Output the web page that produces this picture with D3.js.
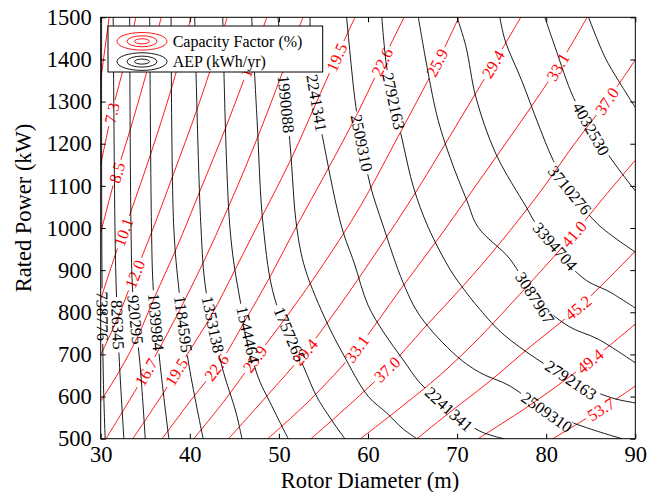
<!DOCTYPE html>
<html>
<head>
<meta charset="utf-8">
<script src="https://cdn.jsdelivr.net/npm/d3@7"></script>
<style>
  body { margin: 0; background: #fff; }
  svg { display: block; }
  svg text { font-family: 'Liberation Serif', 'Times New Roman', serif; }
</style>
</head>
<body>
<div id="chart"></div>
<script>
// Axis ticks
const xTicks = [30, 40, 50, 60, 70, 80, 90];
const yTicks = [500, 600, 700, 800, 900, 1000, 1100, 1200, 1300, 1400, 1500];

// Capacity factor contours (%), each line as [rotor diameter m, rated power kW]
const cfLevels = ['6.2', '7.3', '8.5', '10.1', '12.0', '14.2', '16.7', '19.5', '22.6', '25.9',
  '29.4', '33.1', '37.0', '41.0', '45.2', '49.4', '53.7'];
const cfLines = [
  [[30, 1351], [30.95, 1500]],
  [[30, 1150], [31.25, 1273], [33.3, 1439], [33.95, 1500]],
  [[30, 988], [31.5, 1109], [33.35, 1236], [35.5, 1396], [36.8, 1500]],
  [[30, 831], [31.6, 934], [33.4, 1040], [35.6, 1175], [38.05, 1339], [40.15, 1500]],
  [[30, 699], [31.9, 786], [33.55, 875], [35.7, 989], [38.15, 1127], [40.9, 1287], [43.75, 1469], [44.2, 1500]],
  [[30, 589], [32.2, 664], [34.1, 740], [36.05, 836], [38.5, 952], [41.15, 1088], [44.1, 1242], [47.15, 1413], [48.65, 1500]],
  [[30.6, 500], [32.85, 578], [35.1, 658], [37.35, 744], [39.55, 834], [41.8, 931], [44.05, 1036], [46.3, 1147], [48.55, 1266], [50.8, 1392], [52.7, 1500]],
  [[33.6, 500], [37.05, 609], [39.5, 693], [42.4, 792], [45.15, 904], [48.15, 1029], [51.4, 1165], [54.5, 1312], [57.85, 1469], [58.55, 1500]],
  [[36.9, 500], [40.15, 592], [43.5, 683], [46.2, 780], [49.1, 888], [52.0, 1005], [55.3, 1132], [58.7, 1267], [61.95, 1410], [64.05, 1500]],
  [[40.45, 500], [43.95, 592], [47.3, 689], [51.25, 801], [55.15, 919], [59.1, 1050], [63.05, 1204], [67.75, 1392], [70.2, 1500]],
  [[44.35, 500], [48.55, 599], [52.95, 706], [56.85, 817], [60.8, 938], [65.3, 1083], [68.65, 1199], [74.05, 1389], [77.15, 1500]],
  [[48.75, 500], [53.5, 592], [58.75, 713], [63.6, 853], [68.1, 981], [72.55, 1114], [77.05, 1249], [81.3, 1382], [84.6, 1500]],
  [[53.6, 500], [58.0, 582], [62.15, 665], [66.4, 765], [70.65, 862], [74.8, 964], [79.3, 1085], [83.25, 1202], [86.8, 1301], [90, 1399]],
  [[59.15, 500], [63.6, 573], [68.1, 651], [72.55, 741], [77.05, 843], [83.1, 986], [86.6, 1076], [90, 1161]],
  [[65.5, 500], [69.2, 563], [73.7, 637], [78.2, 718], [83.7, 813], [90, 945]],
  [[72.35, 500], [78.2, 580], [84.8, 682], [90, 772]],
  [[80.75, 500], [86.15, 570], [90, 625]]
];
// [line index, diameter, power] of each inline label
const cfLabels = [
  [1, 31.16, 1273], [2, 31.6, 1133], [3, 32.57, 990], [4, 33.79, 891], [5, 46.76, 1391],
  [6, 35.1, 658], [7, 38.5, 658], [7, 56.41, 1406], [8, 42.94, 670], [8, 61.57, 1394],
  [9, 47.32, 689], [9, 67.74, 1392], [10, 52.93, 706], [10, 74.03, 1389], [11, 58.77, 713],
  [11, 81.32, 1382], [12, 62.13, 665], [12, 86.82, 1301], [13, 83.1, 986], [14, 83.68, 808],
  [15, 84.8, 687], [16, 86.15, 570]
];

// AEP contours (kWh/yr)
const aepLevels = ['738776', '826345', '920295', '1039984', '1184595', '1353138', '1544464', '1757265',
  '1990088', '2241341', '2509310', '2792163', '3087967', '3394704', '3710276', '4032530', null];
const aepLines = [
  [[30.1, 1500], [30.1, 1185], [30.15, 877], [30.3, 639], [30.5, 500]],
  [[31.4, 1500], [31.6, 1002], [31.75, 853], [32.1, 680], [32.6, 500]],
  [[33.25, 1500], [33.4, 1002], [33.6, 846], [34.4, 680], [35.0, 500]],
  [[35.5, 1500], [35.7, 1002], [35.9, 855], [36.65, 680], [37.65, 500]],
  [[37.9, 1500], [38.2, 1002], [38.8, 850], [39.8, 687], [41.5, 500]],
  [[40.55, 1500], [41.25, 1002], [41.8, 853], [43.6, 672], [45.2, 561], [45.85, 500]],
  [[43.7, 1500], [44.5, 1002], [45.5, 846], [47.5, 656], [49.2, 578], [51.05, 500]],
  [[46.95, 1500], [47.55, 1256], [48.25, 1002], [49.55, 831], [52.75, 672], [54.4, 594], [57.4, 500]],
  [[49.9, 1500], [51.25, 1199], [52.0, 1002], [52.95, 903], [55.4, 775], [57.2, 701], [60.0, 601], [62.1, 561], [63.95, 523], [65.5, 500]],
  [[53.5, 1500], [53.65, 1370], [55.1, 1194], [57.05, 1002], [58.45, 917], [60.0, 817], [61.8, 751], [63.95, 687], [65.85, 632], [69.1, 570], [72.55, 518], [75.25, 500]],
  [[57.6, 1500], [58.55, 1302], [59.3, 1202], [60.25, 1102], [61.7, 1005], [63.95, 870], [65.85, 791], [69.95, 696], [72.55, 657], [75.95, 625], [80.1, 563], [84.55, 526], [88.5, 500]],
  [[61.55, 1500], [62.1, 1382], [62.9, 1301], [63.95, 1199], [65.1, 1097], [66.75, 1002], [69.2, 902], [70.5, 862], [72.55, 807], [75.4, 744], [82.8, 639], [87.35, 597], [90, 585]],
  [[65.65, 1500], [67.7, 1270], [69.2, 1168], [71.1, 1065], [72.35, 1002], [75.95, 926], [78.75, 834], [82.5, 767], [85.85, 736], [90, 680]],
  [[70.0, 1500], [71.0, 1430], [72.1, 1311], [74.35, 1176], [77.75, 1050], [79.1, 1002], [84.15, 881], [87.15, 848], [90, 810]],
  [[74.8, 1500], [75.4, 1444], [77.25, 1350], [79.1, 1247], [80.8, 1160], [82.65, 1090], [85.8, 1009], [90, 943]],
  [[79.85, 1500], [81.0, 1429], [83.05, 1310], [85.05, 1235], [87.7, 1152], [90, 1088]],
  [[84.75, 1500], [86.6, 1405], [88.1, 1350], [90, 1286]]
];
const aepLabels = [
  [0, 30.15, 791], [1, 31.66, 770], [2, 33.85, 782], [3, 36.2, 777], [4, 39.27, 772],
  [5, 42.38, 770], [6, 46.42, 746], [7, 51.02, 746], [8, 50.8, 1294], [9, 54.27, 1297],
  [9, 69.09, 570], [10, 59.33, 1202], [10, 80.09, 563], [11, 62.92, 1301], [11, 82.78, 639],
  [12, 78.74, 834], [13, 80.76, 952], [14, 82.67, 1090], [15, 85.03, 1235]
];

const legendItems = [
  { name: 'Capacity Factor (%)', color: '#ff0000' },
  { name: 'AEP (kWh/yr)', color: '#000000' }
];

// Chart dimensions
const width = 657, height = 492;
const margin = { top: 17.3, right: 21.7, bot: 53.3, left: 100.7 };
const fontAxis = 22.5, fontLabel = 16.5;
const serif = "'Liberation Serif', 'Times New Roman', serif";

const xScale = d3.scaleLinear().domain([30, 90]).range([margin.left, width - margin.right]);
const yScale = d3.scaleLinear().domain([500, 1500]).range([height - margin.bot, margin.top]);

const svg = d3.select('#chart').append('svg')
  .attr('width', width)
  .attr('height', height);
const defs = svg.append('defs');

const line = d3.line()
  .x(d => xScale(d[0]))
  .y(d => yScale(d[1]))
  .curve(d3.curveCatmullRom.alpha(0.5));

// snap a label onto its polyline and take the local direction
function snapOnLine(pts, px, py) {
  let best = Infinity, res = null;
  for (let k = 0; k < pts.length - 1; k++) {
    const [x1, y1] = pts[k], [x2, y2] = pts[k + 1];
    const dx = x2 - x1, dy = y2 - y1;
    const t = Math.max(0, Math.min(1, ((px - x1) * dx + (py - y1) * dy) / (dx * dx + dy * dy)));
    const qx = x1 + t * dx, qy = y1 + t * dy;
    const dist = (px - qx) ** 2 + (py - qy) ** 2;
    if (dist < best) {
      best = dist;
      let ang = Math.atan2(dy, dx) * 180 / Math.PI;
      if (ang > 90) ang -= 180;
      if (ang < -90) ang += 180;
      res = { cx: qx, cy: qy, ang };
    }
  }
  return res;
}

function drawContours(lines, levels, labels, color, prefix) {
  const lineGroup = svg.append('g').attr('class', prefix + '-lines');
  const labelGroup = svg.append('g').attr('class', prefix + '-labels');
  const gaps = lines.map(() => []);

  labels.forEach(([li, dv, pv]) => {
    const pts = lines[li].map(d => [xScale(d[0]), yScale(d[1])]);
    const s = snapOnLine(pts, xScale(dv), yScale(pv));
    const t = labelGroup.append('text')
      .attr('transform', `translate(${s.cx},${s.cy}) rotate(${s.ang})`)
      .attr('text-anchor', 'middle')
      .attr('dy', '0.35em')
      .style('font-family', serif)
      .style('font-size', fontLabel + 'px')
      .attr('fill', color)
      .text(levels[li]);
    gaps[li].push({ ...s, len: t.node().getComputedTextLength() });
  });

  lines.forEach((pts, i) => {
    const id = `${prefix}-mask-${i}`;
    const mask = defs.append('mask').attr('id', id)
      .attr('maskUnits', 'userSpaceOnUse')
      .attr('x', 0).attr('y', 0).attr('width', width).attr('height', height);
    mask.append('rect').attr('width', width).attr('height', height).attr('fill', 'white');
    gaps[i].forEach(g => {
      mask.append('rect')
        .attr('x', -g.len / 2 - 3).attr('y', -6)
        .attr('width', g.len + 6).attr('height', 12)
        .attr('transform', `translate(${g.cx},${g.cy}) rotate(${g.ang})`)
        .attr('fill', 'black');
    });
    lineGroup.append('path')
      .datum(pts)
      .attr('d', line)
      .attr('fill', 'none')
      .attr('stroke', color)
      .attr('stroke-width', 0.9)
      .attr('mask', `url(#${id})`);
  });
}

drawContours(cfLines, cfLevels, cfLabels, '#ff0000', 'cf');
drawContours(aepLines, aepLevels, aepLabels, '#000000', 'aep');

// Axes, ticks pointing inwards on all four sides
function styleAxis(g) {
  g.attr('font-family', null).attr('font-size', null);
  g.select('.domain').remove();
  g.selectAll('.tick line').attr('stroke', '#000').attr('stroke-width', 1);
  g.selectAll('.tick text')
    .attr('fill', '#000')
    .style('font-family', serif)
    .style('font-size', fontAxis + 'px');
}

svg.append('g')
  .attr('transform', `translate(0, ${yScale(500)})`)
  .call(d3.axisBottom(xScale).tickValues(xTicks).tickFormat(d3.format('d'))
    .tickSizeInner(-5).tickSizeOuter(0).tickPadding(7))
  .call(styleAxis);

svg.append('g')
  .attr('transform', `translate(0, ${yScale(1500)})`)
  .call(d3.axisTop(xScale).tickValues(xTicks).tickSizeInner(-5).tickSizeOuter(0).tickFormat(''))
  .call(styleAxis);

svg.append('g')
  .attr('transform', `translate(${xScale(30)}, 0)`)
  .call(d3.axisLeft(yScale).tickValues(yTicks).tickFormat(d3.format('d'))
    .tickSizeInner(-5).tickSizeOuter(0).tickPadding(9))
  .call(styleAxis);

svg.append('g')
  .attr('transform', `translate(${xScale(90)}, 0)`)
  .call(d3.axisRight(yScale).tickValues(yTicks).tickSizeInner(-5).tickSizeOuter(0).tickFormat(''))
  .call(styleAxis);

// Frame
svg.append('rect')
  .attr('x', xScale(30))
  .attr('y', yScale(1500))
  .attr('width', xScale(90) - xScale(30))
  .attr('height', yScale(500) - yScale(1500))
  .attr('fill', 'none')
  .attr('stroke', '#000')
  .attr('stroke-width', 1);

// Axis titles
svg.append('text')
  .attr('x', 370)
  .attr('y', 488)
  .attr('text-anchor', 'middle')
  .style('font-family', serif)
  .style('font-size', fontAxis + 'px')
  .text('Rotor Diameter (m)');

svg.append('text')
  .attr('transform', 'translate(31, 208) rotate(-90)')
  .attr('text-anchor', 'middle')
  .style('font-family', serif)
  .style('font-size', fontAxis + 'px')
  .text('Rated Power (kW)');

// Legend
const legend = svg.append('g').attr('transform', 'translate(108, 26)');
legend.append('rect')
  .attr('width', 214.7)
  .attr('height', 46)
  .attr('fill', '#fff')
  .attr('stroke', '#000')
  .attr('stroke-width', 1);

legendItems.forEach((item, i) => {
  const row = legend.append('g').attr('transform', `translate(34, ${15.3 + i * 20.3})`);
  [[25, 8.8], [15, 5.5], [7.5, 2.5]].forEach(([rx, ry]) => {
    row.append('ellipse')
      .attr('rx', rx).attr('ry', ry)
      .attr('fill', 'none')
      .attr('stroke', item.color)
      .attr('stroke-width', 0.9);
  });
  row.append('text')
    .attr('x', 30.7)
    .attr('y', 5.5)
    .style('font-family', serif)
    .style('font-size', '16px')
    .text(item.name);
});
</script>
</body>
</html>
